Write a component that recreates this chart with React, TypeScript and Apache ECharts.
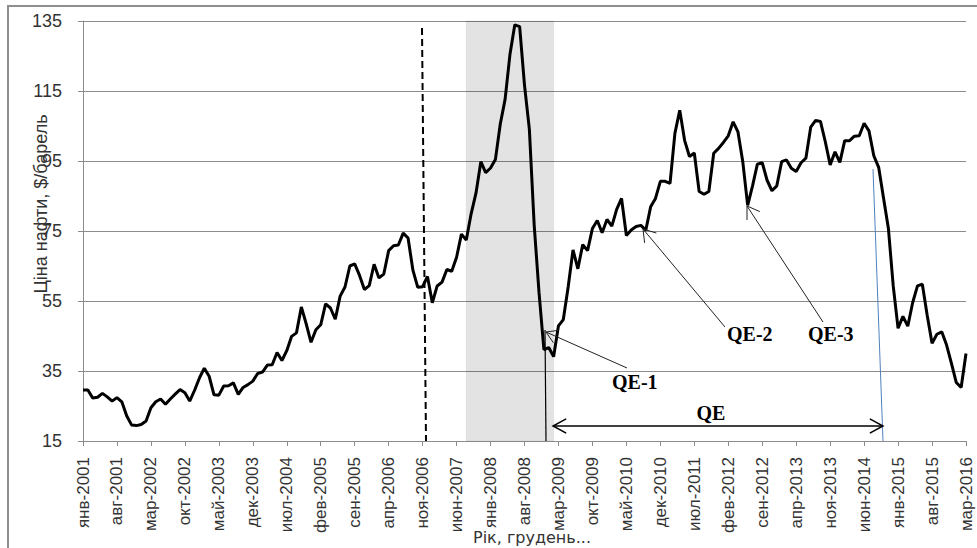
import React, { useEffect, useRef } from "react";
import * as echarts from "echarts";

// Monthly oil price, $/barrel, Jan 2001 – Mar 2016
const monthNames = ["янв", "фев", "мар", "апр", "май", "июн", "июл", "авг", "сен", "окт", "ноя", "дек"];
const startYear = 2001;

const p2001 = [29.6, 29.6, 27.3, 27.5, 28.6, 27.6, 26.4, 27.4, 26.2, 22.2, 19.6, 19.4];
const p2002 = [19.7, 20.7, 24.5, 26.2, 27.0, 25.5, 27.0, 28.4, 29.7, 28.8, 26.4, 29.5];
const p2003 = [33.0, 35.8, 33.5, 28.2, 28.1, 30.7, 30.8, 31.6, 28.3, 30.3, 31.1, 32.1];
const p2004 = [34.3, 34.7, 36.7, 36.8, 40.3, 38.0, 40.8, 44.9, 45.9, 53.3, 48.5, 43.2];
const p2005 = [46.8, 48.2, 54.2, 53.0, 49.8, 56.4, 59.0, 65.0, 65.6, 62.3, 58.3, 59.4];
const p2006 = [65.5, 61.6, 62.7, 69.4, 70.8, 71.0, 74.4, 73.0, 63.8, 58.9, 59.1, 62.0];
const p2007 = [54.5, 59.3, 60.4, 64.0, 63.5, 67.5, 74.1, 72.4, 79.9, 85.8, 94.8, 91.7];
const p2008 = [93.0, 95.4, 105.5, 112.6, 125.4, 133.9, 133.4, 116.7, 104.1, 76.6, 57.3, 41.1];
const p2009 = [41.7, 39.1, 47.9, 49.7, 59.0, 69.6, 64.2, 71.1, 69.4, 75.7, 78.0, 74.5];
const p2010 = [78.3, 76.4, 81.2, 84.3, 73.7, 75.3, 76.3, 76.6, 75.2, 81.9, 84.3, 89.2];
const p2011 = [89.2, 88.6, 102.9, 109.5, 100.9, 96.3, 97.3, 86.3, 85.5, 86.3, 97.2, 98.6];
const p2012 = [100.3, 102.2, 106.2, 103.3, 94.7, 82.3, 87.9, 94.1, 94.5, 89.5, 86.5, 87.9];
const p2013 = [94.8, 95.3, 92.9, 92.0, 94.5, 95.8, 104.7, 106.6, 106.3, 100.5, 93.9, 97.6];
const p2014 = [94.6, 100.8, 100.8, 102.1, 102.2, 105.8, 103.6, 96.5, 93.2, 84.4, 75.8, 59.3];
const p2015 = [47.2, 50.6, 47.8, 54.5, 59.3, 59.8, 50.9, 42.9, 45.5, 46.2, 42.4, 37.2];
const p2016 = [31.7, 30.3, 40.0];

const prices = [
  ...p2001, ...p2002, ...p2003, ...p2004, ...p2005, ...p2006, ...p2007, ...p2008,
  ...p2009, ...p2010, ...p2011, ...p2012, ...p2013, ...p2014, ...p2015, ...p2016,
];
const categories = prices.map((_, i) => `${monthNames[i % 12]}-${startYear + Math.floor(i / 12)}`);

const yMin = 15;
const yMax = 135;
const yStep = 20;
const labelEvery = 7; // months between x tick labels

const shadedFrom = "авг-2007";
const shadedTo = "фев-2009";

const yTitle = "Ціна нафти, $/барель";
const xTitle = "Рік, грудень...";
const qeLabels = ["QE-1", "QE-2", "QE-3", "QE"];

function arrowHead(tip: number[], from: number[], len = 13, ang = 0.55) {
  const a = Math.atan2(from[1] - tip[1], from[0] - tip[0]);
  return [
    [tip[0] + len * Math.cos(a + ang), tip[1] + len * Math.sin(a + ang)],
    tip,
    [tip[0] + len * Math.cos(a - ang), tip[1] + len * Math.sin(a - ang)],
  ];
}

export default function App() {
  const ref = useRef<HTMLDivElement>(null);

  useEffect(() => {
    if (!ref.current) return;
    const chart = echarts.init(ref.current, null, { renderer: "svg" });

    const annStroke = { stroke: "#222", lineWidth: 1, fill: "none" };
    const qeFont = 'bold 20px "Liberation Serif", "Times New Roman", serif';

    const qe1Tip = [546, 332], qe1From = [627, 368];
    const qe2Tip = [643, 229], qe2From = [725, 327];
    const qe3Tip = [747, 206], qe3From = [823, 322];

    chart.setOption({
      animation: false,
      backgroundColor: "#fff",
      grid: { left: 83, right: 11, top: 21, bottom: 107, containLabel: false, outerBoundsMode: "none" },
      xAxis: {
        type: "category",
        data: categories,
        boundaryGap: false,
        axisLine: { show: true, lineStyle: { color: "#8c8c8c", width: 1 } },
        axisTick: { show: true, interval: labelEvery - 1, length: 5, lineStyle: { color: "#8c8c8c" } },
        axisLabel: {
          interval: labelEvery - 1,
          rotate: 90,
          margin: 16,
          fontFamily: "Liberation Sans",
          fontSize: 17,
          color: "#333",
        },
        splitLine: { show: false },
      },
      yAxis: {
        type: "value",
        min: yMin,
        max: yMax,
        interval: yStep,
        axisLine: { show: true, lineStyle: { color: "#8c8c8c", width: 1 } },
        axisTick: { show: true, length: 5, lineStyle: { color: "#8c8c8c" } },
        axisLabel: {
          margin: 21,
          fontFamily: "Liberation Sans",
          fontSize: 18,
          color: "#333",
        },
        splitLine: { show: true, lineStyle: { color: "#8c8c8c", width: 1 } },
      },
      series: [
        {
          type: "line",
          data: prices,
          symbol: "none",
          smooth: false,
          lineStyle: { color: "#000", width: 3 },
          z: 3,
          markArea: {
            silent: true,
            itemStyle: { color: "rgba(0,0,0,0.11)", borderColor: "rgba(0,0,0,0.06)", borderWidth: 1 },
            data: [[{ xAxis: shadedFrom }, { xAxis: shadedTo }]],
          },
        },
      ],
      graphic: [
        {
          type: "rect",
          shape: { x: 8, y: 6, width: 985, height: 560 },
          style: { fill: "none", stroke: "#8e8e8e", lineWidth: 2 },
          z: 0,
        },
        // y axis title
        {
          type: "text",
          x: 41,
          y: 204,
          rotation: Math.PI / 2,
          style: {
            text: yTitle,
            font: '18px "Liberation Sans", Arial, sans-serif',
            fill: "#333",
            align: "center",
            verticalAlign: "middle",
          },
          z: 10,
        },
        // x axis title
        {
          type: "text",
          x: 532,
          y: 537,
          style: {
            text: xTitle,
            font: '16px "DejaVu Sans", sans-serif',
            fill: "#333",
            align: "center",
            verticalAlign: "middle",
          },
          z: 10,
        },
        // dashed vertical line
        {
          type: "line",
          shape: { x1: 422, y1: 28, x2: 426, y2: 441 },
          style: { stroke: "#000", lineWidth: 2, lineDash: [7, 4] },
          z: 10,
        },
        // QE start line
        {
          type: "line",
          shape: { x1: 545, y1: 330, x2: 546, y2: 441 },
          style: { stroke: "#000", lineWidth: 1.2 },
          z: 10,
        },
        // QE end (blue) line
        {
          type: "line",
          shape: { x1: 873, y1: 169, x2: 883, y2: 441 },
          style: { stroke: "#4f81bd", lineWidth: 1 },
          z: 10,
        },
        // QE double arrow
        {
          type: "line",
          shape: { x1: 553, y1: 426, x2: 883, y2: 426 },
          style: { stroke: "#000", lineWidth: 1.5 },
          z: 10,
        },
        {
          type: "polyline",
          shape: { points: arrowHead([553, 426], [883, 426], 15, 0.5) },
          style: { stroke: "#000", lineWidth: 1.5, fill: "none" },
          z: 10,
        },
        {
          type: "polyline",
          shape: { points: arrowHead([883, 426], [553, 426], 15, 0.5) },
          style: { stroke: "#000", lineWidth: 1.5, fill: "none" },
          z: 10,
        },
        {
          type: "text",
          x: 711,
          y: 413,
          style: { text: qeLabels[3], font: qeFont, fill: "#000", align: "center", verticalAlign: "middle" },
          z: 10,
        },
        // QE-1
        { type: "line", shape: { x1: qe1From[0], y1: qe1From[1], x2: qe1Tip[0], y2: qe1Tip[1] }, style: annStroke, z: 10 },
        { type: "polyline", shape: { points: arrowHead(qe1Tip, qe1From, 13, 0.55) }, style: annStroke, z: 10 },
        {
          type: "text",
          x: 612,
          y: 382,
          style: { text: qeLabels[0], font: qeFont, fill: "#000", align: "left", verticalAlign: "middle" },
          z: 10,
        },
        // QE-2
        { type: "line", shape: { x1: qe2From[0], y1: qe2From[1], x2: qe2Tip[0], y2: qe2Tip[1] }, style: annStroke, z: 10 },
        { type: "polyline", shape: { points: arrowHead(qe2Tip, qe2From, 14, 0.58) }, style: annStroke, z: 10 },
        {
          type: "text",
          x: 727,
          y: 334,
          style: { text: qeLabels[1], font: qeFont, fill: "#000", align: "left", verticalAlign: "middle" },
          z: 10,
        },
        // QE-3
        { type: "line", shape: { x1: qe3From[0], y1: qe3From[1], x2: qe3Tip[0], y2: qe3Tip[1] }, style: annStroke, z: 10 },
        { type: "polyline", shape: { points: arrowHead(qe3Tip, qe3From, 14, 0.58) }, style: annStroke, z: 10 },
        {
          type: "text",
          x: 808,
          y: 334,
          style: { text: qeLabels[2], font: qeFont, fill: "#000", align: "left", verticalAlign: "middle" },
          z: 10,
        },
      ],
    });

    return () => {
      chart.dispose();
    };
  }, []);

  return (
    <div
      ref={ref}
      style={{ position: "absolute", left: 0, top: 0, width: 977, height: 548, background: "#fff" }}
    />
  );
}
